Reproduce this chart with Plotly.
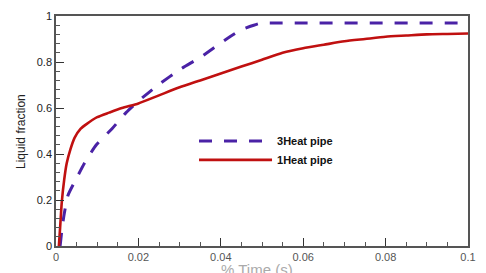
import plotly.graph_objects as go

# 1 Heat pipe (solid red)
t_one = [0.0007, 0.001, 0.0014, 0.002, 0.0026, 0.0035, 0.0045, 0.006, 0.0074, 0.01, 0.0129,
         0.016, 0.02, 0.025, 0.03, 0.035, 0.04, 0.045, 0.05, 0.055, 0.06, 0.065, 0.07,
         0.075, 0.08, 0.085, 0.09, 0.095, 0.1]
lf_one = [0.0, 0.08, 0.19, 0.29, 0.36, 0.42, 0.47, 0.51, 0.53, 0.56, 0.58,
          0.60, 0.62, 0.655, 0.69, 0.72, 0.75, 0.78, 0.81, 0.84, 0.86, 0.875, 0.89,
          0.90, 0.91, 0.915, 0.92, 0.922, 0.924]

# 3 Heat pipe (dashed purple)
t_three = [0.001, 0.0015, 0.002, 0.0029, 0.005, 0.0069, 0.0098, 0.0136, 0.017, 0.02, 0.0248,
           0.0303, 0.035, 0.0414, 0.045, 0.048, 0.05, 0.052, 0.1]
lf_three = [0.0, 0.08, 0.14, 0.22, 0.295, 0.36, 0.44, 0.51, 0.58, 0.63, 0.70,
            0.77, 0.82, 0.90, 0.94, 0.96, 0.97, 0.97, 0.97]

x_ticks = [0, 0.02, 0.04, 0.06, 0.08, 0.1]
x_tick_labels = ["0", "0.02", "0.04", "0.06", "0.08", "0.1"]
y_ticks = [0, 0.2, 0.4, 0.6, 0.8, 1]
y_tick_labels = ["0", "0.2", "0.4", "0.6", "0.8", "1"]

fig = go.Figure()
fig.add_trace(go.Scatter(x=t_three, y=lf_three, mode="lines", name="<b>3Heat pipe</b>",
                         line=dict(color="#4A22A6", width=3, dash="13px,12px", shape="spline",
                                   smoothing=0.6)))
fig.add_trace(go.Scatter(x=t_one, y=lf_one, mode="lines", name="<b>1Heat pipe</b>",
                         line=dict(color="#C01010", width=2.6, shape="spline", smoothing=0.6)))

fig.update_layout(
    width=486, height=273,
    margin=dict(l=56, r=10, t=15, b=21),
    paper_bgcolor="white", plot_bgcolor="white",
    font=dict(family="Liberation Sans, Arial, sans-serif", size=11, color="#333"),
    legend=dict(x=0.335, y=0.52, xanchor="left", yanchor="top", bgcolor="rgba(0,0,0,0)",
                font=dict(size=11, color="#111"), itemwidth=73, tracegroupgap=0),
    showlegend=True,
)
fig.update_xaxes(range=[0, 0.1], tickvals=x_ticks, ticktext=x_tick_labels,
                 showline=True, linecolor="#555", linewidth=1.5, mirror=True,
                 ticks="inside", ticklen=8, tickcolor="#333", showgrid=False, zeroline=False,
                 minor=dict(dtick=0.005, ticks="inside", ticklen=4, tickcolor="#555"),
                 tickfont=dict(size=11, color="#555"))
fig.update_yaxes(range=[0, 1], tickvals=y_ticks, ticktext=y_tick_labels,
                 showline=True, linecolor="#555", linewidth=1.5, mirror=True,
                 ticks="inside", ticklen=8, tickcolor="#333", showgrid=False, zeroline=False,
                 minor=dict(dtick=0.04, ticks="inside", ticklen=4, tickcolor="#555"),
                 tickfont=dict(size=11, color="#222"))

fig.add_annotation(text="Liquid fraction", xref="paper", yref="paper", x=-0.085, y=0.5,
                   xanchor="center", yanchor="middle", textangle=-90, showarrow=False,
                   font=dict(family="Liberation Sans Narrow, Arial Narrow, Liberation Sans, sans-serif",
                             size=12, color="#222"))
fig.add_annotation(text="% Time (s)", xref="paper", yref="paper", x=0.488, y=-0.058,
                   xanchor="center", yanchor="top", showarrow=False,
                   font=dict(size=15, color="#aaa"))

fig.write_html("out.html", config={"displayModeBar": False},
               post_script="document.body.style.margin='0px';")
